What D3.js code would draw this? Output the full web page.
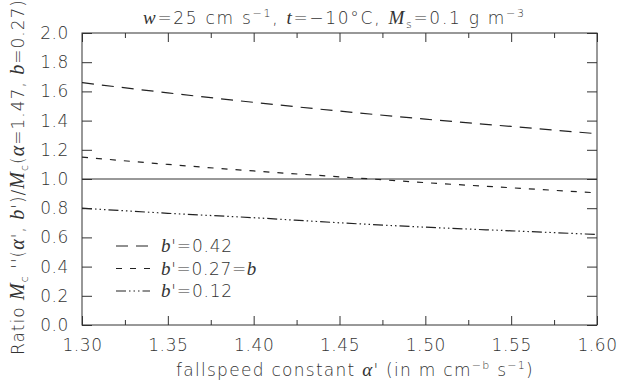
<!DOCTYPE html>
<html>
<head>
<meta charset="utf-8">
<script src="https://cdn.jsdelivr.net/npm/d3@7"></script>
<style>
  body { margin: 0; background: #fff; }
  svg text { font-family: "DejaVu Sans", "Liberation Sans", sans-serif; font-weight: 200; fill: #333; }
</style>
</head>
<body>
<svg width="627" height="383"></svg>
<script>
// datos
var alphaVals = [1.30, 1.35, 1.40, 1.45, 1.50, 1.55, 1.60];
var ratio042 = [1.66, 1.59, 1.525, 1.465, 1.41, 1.36, 1.31];
var ratio027 = [1.15, 1.10, 1.055, 1.015, 0.975, 0.94, 0.905];
var ratio012 = [0.80, 0.765, 0.735, 0.70, 0.67, 0.645, 0.62];
var xTicks = [1.30, 1.35, 1.40, 1.45, 1.50, 1.55, 1.60];
var xMinor = [1.325, 1.375, 1.425, 1.475, 1.525, 1.575];
var yTicks = [0.0, 0.2, 0.4, 0.6, 0.8, 1.0, 1.2, 1.4, 1.6, 1.8, 2.0];

var svg = d3.select("svg"),
    margin = {top: 33, right: 30, bottom: 58, left: 82},
    width = +svg.attr("width") - margin.left - margin.right,
    height = +svg.attr("height") - margin.top - margin.bottom,
    g = svg.append("g").attr("transform", "translate(" + margin.left + "," + margin.top + ")");

var x = d3.scaleLinear().domain([1.30, 1.60]).range([0, width]);
var y = d3.scaleLinear().domain([0, 2]).range([height, 0]);

var series = [
  {key: "0.42", values: ratio042, dash: "12,8"},
  {key: "0.27", values: ratio027, dash: "6,8"},
  {key: "0.12", values: ratio012, dash: "10,3,1.5,3,1.5,3,1.5,3"}
];

var serif = "Liberation Serif, serif";

// ajusta el espaciado para que el texto ocupe el ancho dado
function fit(t, w) {
  var n = t.text().length;
  var cur = t.node().getComputedTextLength();
  t.attr("letter-spacing", (w - cur) / n);
}

// ejes
g.append("g").attr("transform", "translate(0," + height + ")")
  .call(d3.axisBottom(x).tickValues(xTicks).tickSize(-9).tickFormat(d3.format(".2f")).tickPadding(14))
  .call(function(a) { a.select(".domain").remove(); a.selectAll("text").attr("font-size", 17).attr("letter-spacing", 0.6); });
g.append("g")
  .call(d3.axisTop(x).tickValues(xTicks).tickSize(-9).tickFormat(""))
  .call(function(a) { a.select(".domain").remove(); });
g.append("g").attr("transform", "translate(0," + height + ")")
  .call(d3.axisBottom(x).tickValues(xMinor).tickSize(-5).tickFormat(""))
  .call(function(a) { a.select(".domain").remove(); });
g.append("g")
  .call(d3.axisTop(x).tickValues(xMinor).tickSize(-5).tickFormat(""))
  .call(function(a) { a.select(".domain").remove(); });
g.append("g")
  .call(d3.axisLeft(y).tickValues(yTicks).tickSize(-10).tickFormat(d3.format(".1f")).tickPadding(13))
  .call(function(a) { a.select(".domain").remove(); a.selectAll("text").attr("font-size", 17).attr("letter-spacing", 0.6); });
g.append("g").attr("transform", "translate(" + width + ",0)")
  .call(d3.axisRight(y).tickValues(yTicks).tickSize(-10).tickFormat(""))
  .call(function(a) { a.select(".domain").remove(); });
g.selectAll(".tick line").attr("stroke", "#333");

g.append("rect")
  .attr("width", width).attr("height", height)
  .attr("fill", "none").attr("stroke", "#333").attr("stroke-width", 1);

// linea de referencia 1.0
g.append("line")
  .attr("x1", 0).attr("x2", width)
  .attr("y1", y(1)).attr("y2", y(1))
  .attr("stroke", "#333");

var line = d3.line()
  .x(function(d, i) { return x(alphaVals[i]); })
  .y(function(d) { return y(d); })
  .curve(d3.curveMonotoneX);

g.selectAll(".series")
  .data(series)
  .enter().append("path")
    .attr("d", function(d) { return line(d.values); })
    .attr("fill", "none")
    .attr("stroke", "#222")
    .attr("stroke-width", 1.2)
    .attr("stroke-dasharray", function(d) { return d.dash; });

// leyenda
var legend = g.selectAll(".legend")
  .data(series)
  .enter().append("g")
    .attr("transform", function(d, i) { return "translate(34," + (213 + i * 22.5) + ")"; });
legend.append("line")
  .attr("x1", 0).attr("x2", 34).attr("y1", 0).attr("y2", 0)
  .attr("stroke", "#222").attr("stroke-width", 1.2)
  .attr("stroke-dasharray", function(d) { return d.dash; });
var lt = legend.append("text").attr("x", 45).attr("y", 6).attr("font-size", 17);
lt.append("tspan").attr("font-family", serif).attr("font-style", "italic").attr("font-size", 19).text("b");
lt.append("tspan").text(function(d) { return "'=" + d.key; });
lt.filter(function(d) { return d.key === "0.27"; }).append("tspan").text("=");
lt.filter(function(d) { return d.key === "0.27"; }).append("tspan")
  .attr("font-family", serif).attr("font-style", "italic").attr("font-size", 19).text("b");
lt.each(function(d) { var t = d3.select(this); fit(t, d.key === "0.27" ? 96 : 72); });

// titulo
var title = svg.append("text").attr("x", 143).attr("y", 24).attr("font-size", 17);
title.append("tspan").attr("font-family", serif).attr("font-style", "italic").attr("font-size", 19).text("w");
title.append("tspan").text("=25 cm s");
title.append("tspan").attr("dy", -7).attr("font-size", 11).text("−1");
title.append("tspan").attr("dy", 7).text(",   ");
title.append("tspan").attr("font-family", serif).attr("font-style", "italic").attr("font-size", 19).text("t");
title.append("tspan").text("=−10°C, ");
title.append("tspan").attr("font-family", serif).attr("font-style", "italic").attr("font-size", 19).text("M");
title.append("tspan").attr("dy", 4).attr("font-size", 11).text("s");
title.append("tspan").attr("dy", -4).text("=0.1 g m");
title.append("tspan").attr("dy", -7).attr("font-size", 11).text("−3");
fit(title, 386);

// etiqueta eje x
var xl = svg.append("text").attr("x", 176).attr("y", 376).attr("font-size", 17);
xl.append("tspan").text("fallspeed constant ");
xl.append("tspan").attr("font-family", serif).attr("font-style", "italic").attr("font-size", 19).text("α");
xl.append("tspan").text("' (in m cm");
xl.append("tspan").attr("dy", -7).attr("font-size", 11).text("−b");
xl.append("tspan").attr("dy", 7).text(" s");
xl.append("tspan").attr("dy", -7).attr("font-size", 11).text("−1");
xl.append("tspan").attr("dy", 7).text(")");
fit(xl, 358);

// etiqueta eje y
var yl = svg.append("text").attr("transform", "translate(24,355) rotate(-90)").attr("font-size", 17);
yl.append("tspan").text("Ratio ");
yl.append("tspan").attr("font-family", serif).attr("font-style", "italic").attr("font-size", 20).text("M");
yl.append("tspan").attr("dy", 4).attr("font-size", 11).text("c");
yl.append("tspan").attr("dy", -4).text(" ''(");
yl.append("tspan").attr("font-family", serif).attr("font-style", "italic").attr("font-size", 20).text("α");
yl.append("tspan").text("', ");
yl.append("tspan").attr("font-family", serif).attr("font-style", "italic").attr("font-size", 20).text("b");
yl.append("tspan").text("')/");
yl.append("tspan").attr("font-family", serif).attr("font-style", "italic").attr("font-size", 20).text("M");
yl.append("tspan").attr("dy", 4).attr("font-size", 11).text("c");
yl.append("tspan").attr("dy", -4).text("(");
yl.append("tspan").attr("font-family", serif).attr("font-style", "italic").attr("font-size", 20).text("α");
yl.append("tspan").text("=1.47, ");
yl.append("tspan").attr("font-family", serif).attr("font-style", "italic").attr("font-size", 20).text("b");
yl.append("tspan").text("=0.27)");
fit(yl, 356);
</script>
</body>
</html>
